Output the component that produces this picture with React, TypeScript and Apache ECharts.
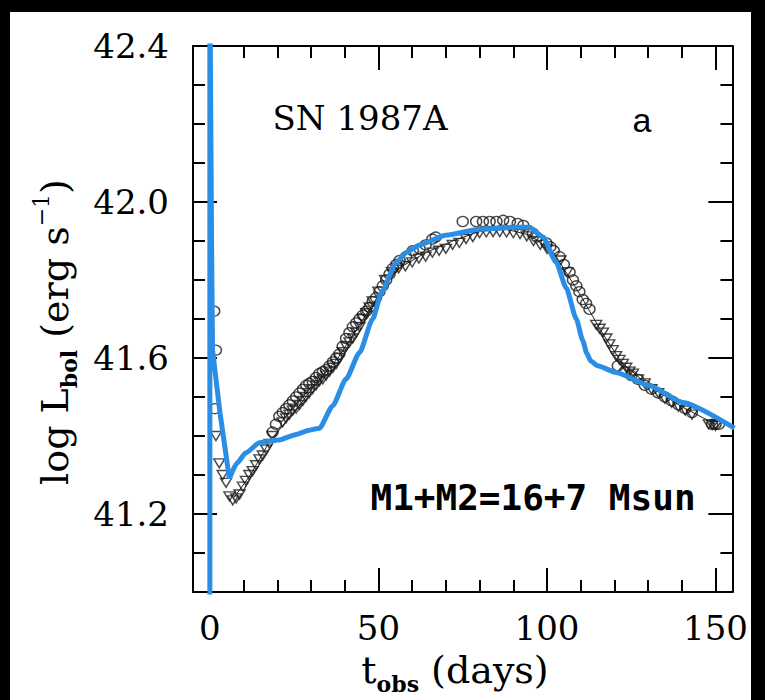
import React, { useEffect, useRef } from 'react';
import * as echarts from 'echarts';

// Axis ticks / labels
const xMajorTicks = [0, 50, 100, 150];
const xMinorTicks = [10, 20, 30, 40, 60, 70, 80, 90, 110, 120, 130, 140];
const yMajorTicks = [41.2, 41.6, 42.0, 42.4];
const yMinorTicks = [41.1, 41.3, 41.4, 41.5, 41.7, 41.8, 41.9, 42.1, 42.2, 42.3];

// Model light curve (blue): initial spike and decline to the minimum
const spikeDays = [0, 0, 0.5, 0.8, 3, 5.8];
const spikeLogL = [40.9, 42.6, 41.9, 41.62, 41.46, 41.29];
// Model light curve (blue): from the minimum onward
const modelDays = [5.8, 8, 10.7, 14.7, 20.6, 25.6, 29.5, 32.5, 36.4, 40.4, 44.4, 48.3, 51, 55.3, 58.5, 62.2, 70, 80, 90, 94.8, 98.8, 102.7, 105.7, 108.7, 110.6, 111.8, 113, 115, 120.5, 130.4, 140.3, 155.6];
const modelLogL = [41.29, 41.33, 41.357, 41.383, 41.39, 41.404, 41.415, 41.42, 41.477, 41.546, 41.614, 41.70, 41.77, 41.845, 41.872, 41.89, 41.915, 41.93, 41.935, 41.935, 41.91, 41.846, 41.78, 41.70, 41.645, 41.612, 41.592, 41.58, 41.563, 41.529, 41.486, 41.42];

// Observations: circles
const circleDays = [1.3, 1.8, 1.5, 18.6, 19.6, 20.6, 21.6, 22.6, 23.6, 24.6, 25.6, 26.6, 27.6, 28.6, 29.5, 30.5, 31.5, 32.5, 33.5, 34.5, 35.5, 36.5, 37.5, 38.4, 39.4, 40.4, 41.4, 42.4, 43.4, 44.4, 45.4, 46.4, 47.4, 48.3, 49.3, 50.3, 51.3, 52.3, 53.3, 54.3, 55.3, 56.3, 58.2, 60.2, 62.2, 64, 66, 67, 75, 79, 81, 83, 85, 87, 89, 91.3, 93, 95.8, 97, 99.8, 101, 102, 103.7, 105, 106.7, 107.7, 108.7, 109.6, 110.6, 111.6, 112.6, 121, 123, 125, 127, 129, 131, 133, 135, 137, 139, 141, 143, 149, 150, 151];
const circleLogL = [41.72, 41.62, 41.47, 41.41, 41.43, 41.45, 41.46, 41.47, 41.48, 41.49, 41.50, 41.51, 41.52, 41.53, 41.535, 41.54, 41.55, 41.56, 41.565, 41.57, 41.58, 41.59, 41.60, 41.61, 41.63, 41.65, 41.665, 41.68, 41.69, 41.70, 41.71, 41.72, 41.73, 41.745, 41.755, 41.77, 41.785, 41.80, 41.815, 41.83, 41.84, 41.85, 41.86, 41.875, 41.88, 41.89, 41.905, 41.91, 41.95, 41.95, 41.95, 41.95, 41.95, 41.953, 41.95, 41.945, 41.94, 41.92, 41.91, 41.895, 41.885, 41.875, 41.86, 41.84, 41.82, 41.80, 41.785, 41.77, 41.75, 41.74, 41.725, 41.58, 41.565, 41.555, 41.545, 41.53, 41.52, 41.51, 41.50, 41.49, 41.48, 41.47, 41.46, 41.43, 41.43, 41.43];

// Observations: triangles
const triangleDays = [1.8, 2.8, 3.8, 4.8, 5.8, 6.8, 7.8, 8.8, 9.8, 10.7, 11.7, 12.7, 13.7, 14.7, 15.7, 16.7, 17.7, 18.6, 21.6, 22.6, 23.6, 24.6, 25.6, 26.6, 27.6, 28.5, 29.5, 30.5, 31.5, 32.5, 33.5, 34.5, 35.5, 36.5, 37.5, 38.4, 39.4, 40.4, 41.4, 42.4, 43.4, 44.4, 45.4, 46.4, 47.4, 48.3, 50, 52, 54, 56, 58, 60, 62, 64, 66, 68, 70, 72, 74, 76, 78, 80, 82, 84, 86, 88, 90, 92, 94, 96, 98, 100, 104, 106, 114.6, 115.6, 116.6, 117.6, 118.5, 119.5, 120.5, 121.5, 122.5, 123.5, 124.5, 125.5, 127, 129, 131, 133, 135, 137, 139, 141, 143, 148, 149, 150];
const triangleLogL = [41.40, 41.33, 41.30, 41.28, 41.245, 41.235, 41.24, 41.25, 41.27, 41.285, 41.30, 41.31, 41.325, 41.34, 41.35, 41.365, 41.38, 41.40, 41.435, 41.445, 41.455, 41.465, 41.47, 41.48, 41.49, 41.50, 41.51, 41.52, 41.53, 41.54, 41.545, 41.555, 41.565, 41.575, 41.585, 41.60, 41.615, 41.63, 41.64, 41.65, 41.665, 41.68, 41.70, 41.715, 41.73, 41.745, 41.77, 41.80, 41.82, 41.83, 41.835, 41.845, 41.855, 41.86, 41.87, 41.875, 41.88, 41.89, 41.895, 41.905, 41.91, 41.92, 41.922, 41.923, 41.923, 41.922, 41.92, 41.918, 41.912, 41.90, 41.89, 41.88, 41.85, 41.82, 41.685, 41.675, 41.665, 41.65, 41.635, 41.62, 41.605, 41.595, 41.585, 41.575, 41.565, 41.56, 41.545, 41.535, 41.52, 41.51, 41.495, 41.485, 41.475, 41.465, 41.455, 41.43, 41.428, 41.426];

// Thin black observed curve
const obsLineDays = [7, 12, 18, 25, 32, 38, 44, 50, 56, 64, 72, 80, 88, 95, 102, 110, 116, 122, 130, 140, 150];
const obsLineLogL = [41.24, 41.30, 41.39, 41.46, 41.54, 41.60, 41.68, 41.76, 41.83, 41.87, 41.90, 41.925, 41.93, 41.915, 41.87, 41.76, 41.67, 41.59, 41.53, 41.475, 41.43];

const zip = (a: number[], b: number[]) => a.map((v, i) => [v, b[i]]);

const SERIF = 'DejaVu Serif';
const BLUE = '#2b8ee6';

export default function App() {
  const ref = useRef<HTMLDivElement>(null);
  useEffect(() => {
    if (!ref.current) return;
    const chart = echarts.init(ref.current, null, { renderer: 'svg' });
    const X0 = 10, Y0 = 12; // chart div offset in page
    const xMin = -5, xMax = 155, yMin = 41.0, yMax = 42.4;

    const xAxisCfg = (position: string, ticks: number[], len: number, showLine: boolean, labels: boolean) => ({
      type: 'value', position, min: xMin, max: xMax, gridIndex: 0,
      axisLine: { show: showLine, onZero: false, lineStyle: { color: '#000', width: 2 } },
      axisTick: { show: true, inside: true, length: len, customValues: ticks, lineStyle: { color: '#000', width: 2 } },
      axisLabel: labels
        ? { show: true, customValues: xMajorTicks, margin: 19, color: '#000', fontFamily: SERIF, fontSize: 34, formatter: (v: number) => String(Math.round(v)) }
        : { show: false },
      splitLine: { show: false },
    });
    const yAxisCfg = (position: string, ticks: number[], len: number, showLine: boolean, labels: boolean) => ({
      type: 'value', position, min: yMin, max: yMax, gridIndex: 0,
      axisLine: { show: showLine, onZero: false, lineStyle: { color: '#000', width: 2 } },
      axisTick: { show: true, inside: true, length: len, customValues: ticks, lineStyle: { color: '#000', width: 2 } },
      axisLabel: labels
        ? { show: true, customValues: yMajorTicks, margin: 24, color: '#000', fontFamily: SERIF, fontSize: 34, formatter: (v: number) => v.toFixed(1) }
        : { show: false },
      splitLine: { show: false },
    });

    const titleRich = {
      m: { fontFamily: SERIF, fontSize: 38, lineHeight: 50, verticalAlign: 'middle', fill: '#000' },
      s: { fontFamily: SERIF, fontSize: 22, fontWeight: 'bold', lineHeight: 22, verticalAlign: 'bottom', fill: '#000' },
      p: { fontFamily: SERIF, fontSize: 22, lineHeight: 22, verticalAlign: 'top', fill: '#000' },
    };

    chart.setOption({
      animation: false,
      backgroundColor: '#fff',
      grid: { left: 193 - X0, top: 46 - Y0, width: 542, height: 546 },
      xAxis: [
        xAxisCfg('bottom', xMajorTicks, 24, true, true),
        xAxisCfg('bottom', xMinorTicks, 12, false, false),
        xAxisCfg('top', xMajorTicks, 24, true, false),
        xAxisCfg('top', xMinorTicks, 12, false, false),
      ],
      yAxis: [
        yAxisCfg('left', yMajorTicks, 24, true, true),
        yAxisCfg('left', yMinorTicks, 12, false, false),
        yAxisCfg('right', yMajorTicks, 24, true, false),
        yAxisCfg('right', yMinorTicks, 12, false, false),
      ],
      graphic: [
        {
          type: 'text', x: 360 - X0, y: 118 - Y0, silent: true,
          style: { text: 'SN 1987A', fontFamily: SERIF, fontSize: 34, fill: '#000', align: 'center', verticalAlign: 'middle' },
        },
        {
          type: 'text', x: 642 - X0, y: 120 - Y0, silent: true,
          style: { text: 'a', fontFamily: 'Liberation Sans', fontSize: 34, fill: '#000', align: 'center', verticalAlign: 'middle' },
        },
        {
          type: 'text', x: 533 - X0, y: 497 - Y0, silent: true,
          style: { text: 'M1+M2=16+7 Msun', fontFamily: 'DejaVu Sans Mono', fontWeight: 'bold', fontSize: 36, fill: '#000', align: 'center', verticalAlign: 'middle' },
        },
        {
          type: 'text', x: 455 - X0, y: 670 - Y0, silent: true,
          style: { text: '{m|t}{s|obs}{m| (days)}', align: 'center', verticalAlign: 'middle', fill: '#000', rich: titleRich },
        },
        {
          type: 'text', x: 55 - X0, y: 332 - Y0, rotation: Math.PI / 2, silent: true,
          style: { text: '{m|log L}{s|bol}{m| (erg s}{p|\u22121}{m|)}', align: 'center', verticalAlign: 'middle', fill: '#000', rich: titleRich },
        },
      ],
      series: [
        {
          type: 'line', data: zip(obsLineDays, obsLineLogL), xAxisIndex: 0, yAxisIndex: 0,
          showSymbol: false, symbol: 'none', lineStyle: { color: '#222', width: 1 }, z: 2,
        },
        {
          type: 'scatter', data: zip(circleDays, circleLogL), xAxisIndex: 0, yAxisIndex: 0,
          symbol: 'circle', symbolSize: [11, 10],
          itemStyle: { color: 'rgba(0,0,0,0)', borderColor: '#1a1a1a', borderWidth: 1.4 }, z: 3,
        },
        {
          type: 'scatter', data: zip(triangleDays, triangleLogL), xAxisIndex: 0, yAxisIndex: 0,
          symbol: 'path://M0,0L10,0L5,9Z', symbolSize: [11, 9],
          itemStyle: { color: 'rgba(0,0,0,0)', borderColor: '#1a1a1a', borderWidth: 1.4 }, z: 3,
        },
        {
          type: 'line', data: zip(spikeDays, spikeLogL), xAxisIndex: 0, yAxisIndex: 0,
          showSymbol: false, symbol: 'none', clip: true,
          lineStyle: { color: BLUE, width: 5, join: 'miter' }, z: 5,
        },
        {
          type: 'line', data: zip(modelDays, modelLogL), xAxisIndex: 0, yAxisIndex: 0,
          showSymbol: false, symbol: 'none', clip: true, smooth: 0.2, smoothMonotone: 'x',
          lineStyle: { color: BLUE, width: 5 }, z: 5,
        },
      ],
    });
    return () => chart.dispose();
  }, []);

  return (
    <div style={{ position: 'fixed', left: 0, top: 0, width: 765, height: 700, background: '#000' }}>
      <div ref={ref} style={{ position: 'absolute', left: 10, top: 12, width: 741, height: 688, background: '#fff' }} />
    </div>
  );
}
